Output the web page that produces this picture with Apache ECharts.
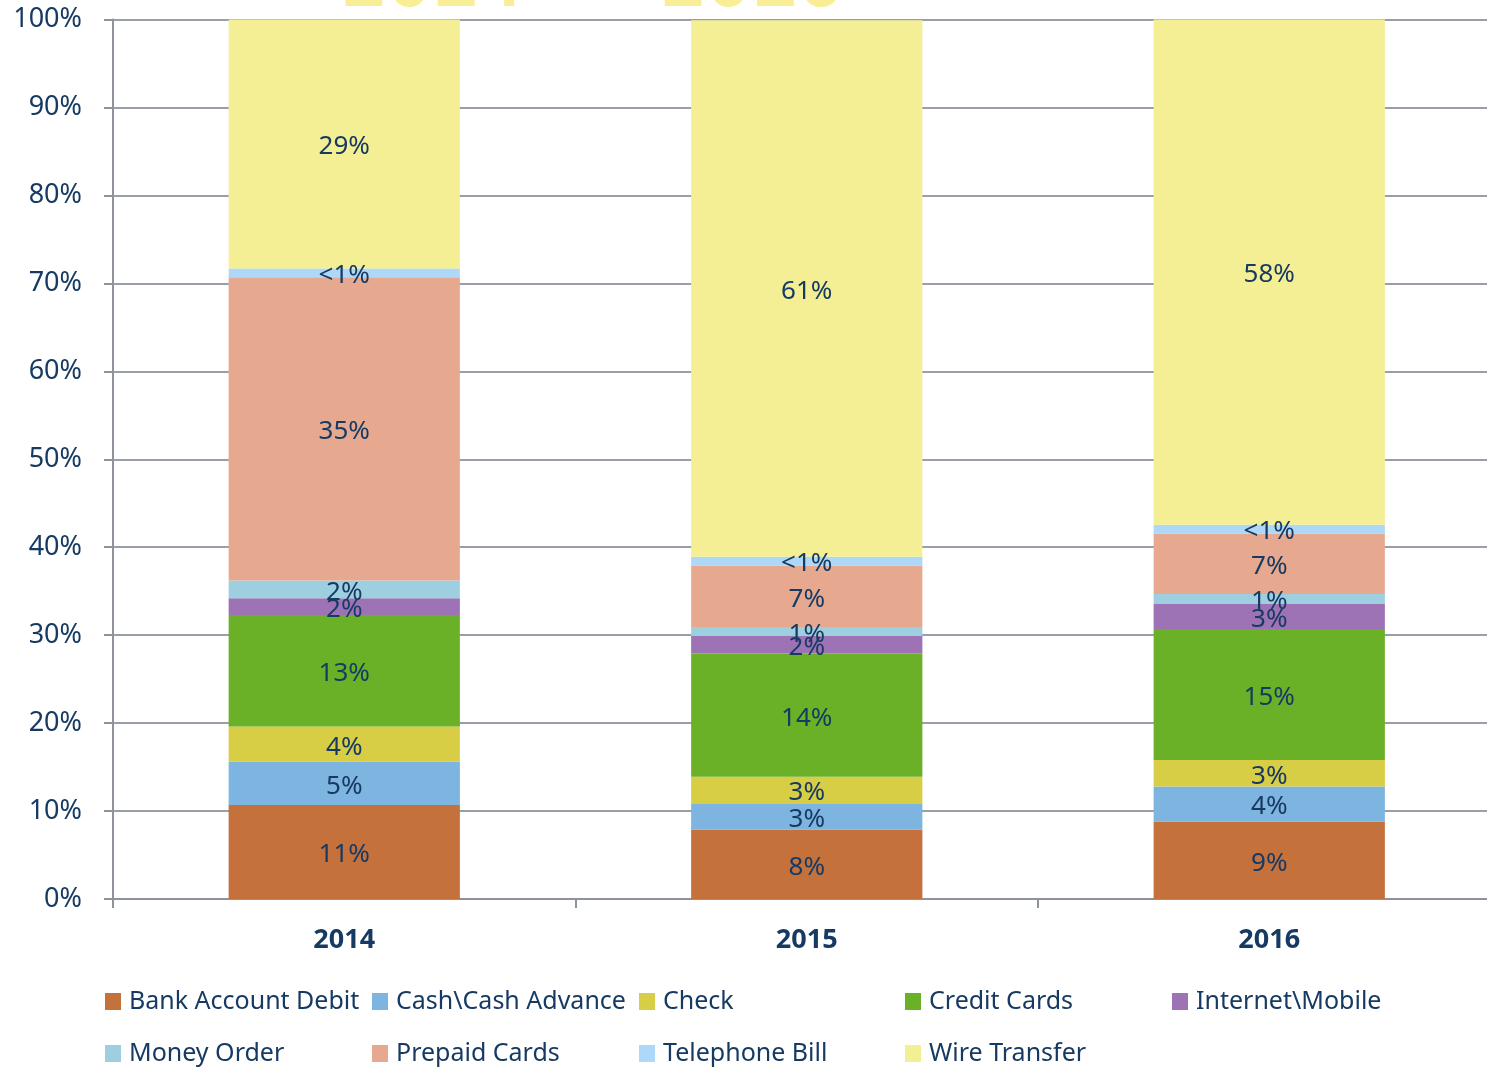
<!DOCTYPE html>
<html>
<head>
<meta charset="utf-8">
<script src="https://cdn.jsdelivr.net/npm/echarts@6/dist/echarts.min.js"></script>
<style>
html,body{margin:0;padding:0;background:#fff;}
#main{width:1487px;height:1069px;}
</style>
</head>
<body>
<div id="main"></div>
<script>
const years = ['2014', '2015', '2016'];
const seriesNames = ['Bank Account Debit', 'Cash\\Cash Advance', 'Check', 'Credit Cards', 'Internet\\Mobile', 'Money Order', 'Prepaid Cards', 'Telephone Bill', 'Wire Transfer'];
const bankAccountDebit = [10.7, 7.9, 8.8];
const cashAdvance = [4.9, 3.0, 4.0];
const check = [4.0, 3.0, 3.0];
const creditCards = [12.7, 14.0, 14.9];
const internetMobile = [1.9, 2.0, 2.9];
const moneyOrder = [2.0, 1.03, 1.07];
const prepaidCards = [34.5, 7.0, 6.9];
const telephoneBill = [0.99, 0.99, 0.99];
const wireTransfer = [28.5, 61.0, 57.5];
const yTicks = [0, 10, 20, 30, 40, 50, 60, 70, 80, 90, 100];

const seriesData = [bankAccountDebit, cashAdvance, check, creditCards, internetMobile, moneyOrder, prepaidCards, telephoneBill, wireTransfer];
const colors = ['#C5713C', '#7DB4E0', '#D7CE46', '#6BB128', '#9E73B6', '#9DCFE0', '#E6A98F', '#AED8F8', '#F4EE94'];
const legendX = [105, 372, 639, 905, 1172];
const legendY = [989, 1041];
const textColor = '#173A63';
const fontFam = '"Noto Sans", "Open Sans", sans-serif';

const chart = echarts.init(document.getElementById('main'), null, {renderer: 'canvas'});
const option = {
  animation: false,
  color: colors,
  graphic: [{
    type: 'text',
    left: 341,
    top: -51,
    style: {
      text: '2014 - 2016',
      fontFamily: '"Liberation Mono", "DejaVu Sans Mono", monospace',
      fontWeight: 'bold',
      fontSize: 76,
      fill: '#F8EE96'
    },
    z: 10
  }],
  grid: {left: 113, top: 19.5, right: -13.5, bottom: 170, containLabel: false, outerBoundsMode: 'none'},
  legend: seriesNames.map((n, i) => ({
    data: [n],
    left: legendX[i % 5],
    top: legendY[Math.floor(i / 5)],
    padding: 0,
    itemWidth: 16,
    itemHeight: 17,
    itemGap: 0,
    icon: 'rect',
    selectedMode: false,
    textStyle: {color: textColor, fontSize: 25, fontFamily: fontFam, padding: [0, 0, 0, 3]}
  })),
  xAxis: {
    type: 'category',
    data: years,
    axisLine: {lineStyle: {color: '#8E929B', width: 2}},
    axisTick: {show: true, length: 9, lineStyle: {color: '#8E929B', width: 2}},
    axisLabel: {color: textColor, fontSize: 27, fontWeight: 'bold', fontFamily: fontFam, margin: 28}
  },
  yAxis: {
    type: 'value',
    min: yTicks[0],
    max: yTicks[yTicks.length - 1],
    interval: 10,
    axisLine: {show: true, lineStyle: {color: '#8E929B', width: 2}},
    axisTick: {show: true, length: 9, lineStyle: {color: '#8E929B', width: 2}},
    splitLine: {lineStyle: {color: '#9A9EA6', width: 2}},
    axisLabel: {color: textColor, fontSize: 27, fontFamily: fontFam, margin: 31, formatter: '{value}%'}
  },
  series: seriesNames.map((n, i) => ({
    name: n,
    type: 'bar',
    stack: 'total',
    barWidth: '50%',
    data: seriesData[i],
    itemStyle: {color: colors[i]},
    label: {
      show: true,
      position: 'inside',
      offset: [0, 3],
      color: textColor,
      fontSize: 26,
      fontFamily: fontFam,
      formatter: p => (p.value < 1 ? '<1%' : Math.round(p.value) + '%')
    }
  }))
};
chart.setOption(option);
</script>
</body>
</html>
